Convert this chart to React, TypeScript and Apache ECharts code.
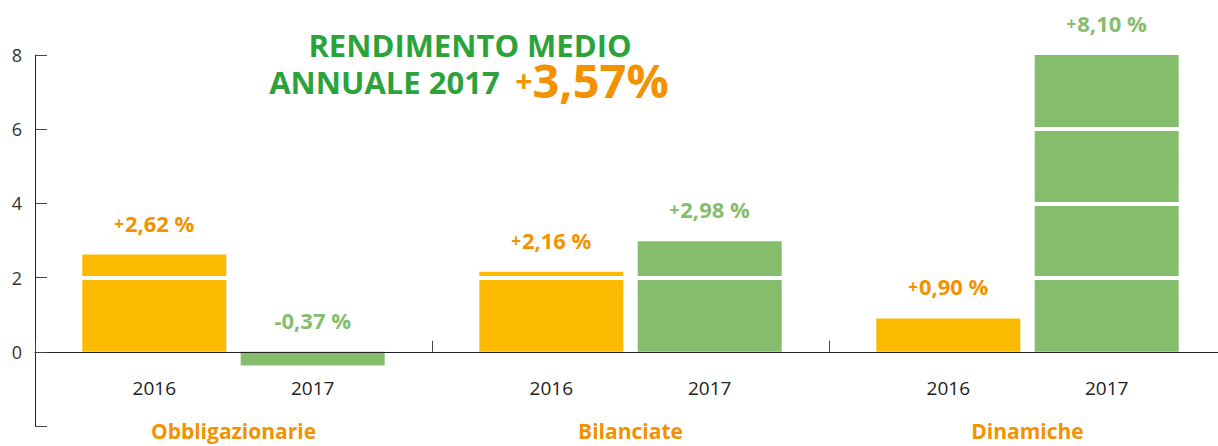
import React, { useEffect, useRef } from 'react';
import * as echarts from 'echarts';

const categories = ['Obbligazionarie', 'Bilanciate', 'Dinamiche'];
const years = ['2016', '2017'];
const values2016 = [2.62, 2.16, 0.9];
const values2017 = [-0.37, 2.98, 8.1];
const yMin = -2;
const yMax = 8;
const yInterval = 2;
const highlightLines = [2, 4, 6];
const titleLine1 = 'RENDIMENTO MEDIO';
const titleLine2 = 'ANNUALE 2017';
const averageReturn = 3.57;

const ORANGE_BAR = '#FBBA00';
const GREEN_BAR = '#84BD6C';
const ORANGE_TEXT = '#F39200';
const TITLE_GREEN = '#2BA33A';
const FONT = '"Open Sans", Lato, sans-serif';

const fmt = (v: number) => {
  const body = Math.abs(v).toFixed(2).replace('.', ',') + ' %';
  return v >= 0 ? '{s|+}{v|' + body + '}' : '{v|-' + body + '}';
};

const valueLabel = (color: string) => ({
  show: true,
  position: 'top',
  distance: 21,
  formatter: (p: any) => fmt(p.value),
  rich: {
    s: {
      fontSize: 17,
      fontWeight: 'bold',
      color,
      fontFamily: FONT,
      verticalAlign: 'bottom',
      padding: [0, 1, 2, 0],
    },
    v: { fontSize: 22, fontWeight: 'bold', color, fontFamily: FONT, verticalAlign: 'bottom' },
  },
});

const yearLabel = (name: string) => ({
  show: true,
  position: 'bottom',
  distance: 27,
  formatter: name,
  color: '#222',
  fontSize: 19,
  fontFamily: FONT,
});

const barCommon = { barWidth: 144, barGap: '10%' };

export default function App() {
  const ref = useRef<HTMLDivElement>(null);
  useEffect(() => {
    if (!ref.current) return;
    const chart = echarts.init(ref.current, undefined, { renderer: 'svg' });
    const avg = '+' + averageReturn.toFixed(2).replace('.', ',') + '%';
    chart.setOption({
      animation: false,
      backgroundColor: '#fff',
      grid: {
        left: 35,
        right: -8,
        top: 55,
        bottom: 20,
        containLabel: false,
        outerBoundsMode: 'none',
      },
      graphic: [
        {
          type: 'text',
          x: 470,
          y: 45,
          style: {
            text: titleLine1,
            fill: TITLE_GREEN,
            fontSize: 31,
            fontWeight: 'bold',
            fontFamily: FONT,
            align: 'center',
            verticalAlign: 'middle',
          },
        },
        {
          type: 'text',
          x: 469,
          y: 80,
          style: {
            text: '{g|' + titleLine2 + '}{sp|   }{p|+}{o|' + avg.slice(1) + '}',
            align: 'center',
            verticalAlign: 'middle',
            rich: {
              g: { fill: TITLE_GREEN, fontSize: 31, fontWeight: 'bold', fontFamily: FONT, verticalAlign: 'bottom', padding: [0, 0, 6, 0] },
              sp: { fontSize: 20, fontFamily: FONT, verticalAlign: 'bottom' },
              p: { fill: ORANGE_TEXT, fontSize: 30, fontWeight: 'bold', fontFamily: FONT, verticalAlign: 'bottom', padding: [0, 0, 8, 0] },
              o: { fill: ORANGE_TEXT, fontSize: 47, fontWeight: 'bold', fontFamily: FONT, verticalAlign: 'bottom' },
            },
          },
        },
      ],
      xAxis: [
        {
          type: 'category',
          data: categories,
          z: 10,
          axisLine: { show: true, lineStyle: { color: '#222', width: 1 } },
          axisTick: { show: true, inside: true, length: 11, lineStyle: { color: '#444' } },
          axisLabel: { show: false },
        },
        { type: 'category', data: categories, position: 'bottom', show: false },
        { type: 'category', data: categories, position: 'bottom', show: false },
        { type: 'category', data: categories, position: 'bottom', show: false },
      ],
      yAxis: {
        type: 'value',
        min: yMin,
        max: yMax,
        interval: yInterval,
        z: 10,
        axisLine: { show: true, lineStyle: { color: '#222', width: 1 } },
        axisTick: { show: true, inside: true, length: 12, lineStyle: { color: '#444' } },
        axisLabel: {
          formatter: (v: number) => (v < 0 ? '' : String(v)),
          color: '#333',
          fontSize: 18,
          fontFamily: FONT,
          margin: 13,
        },
        splitLine: { show: false },
      },
      series: [
        {
          type: 'bar',
          name: years[0],
          data: values2016,
          ...barCommon,
          z: 2,
          itemStyle: { color: ORANGE_BAR },
        },
        {
          type: 'bar',
          name: years[1],
          data: values2017,
          ...barCommon,
          z: 2,
          itemStyle: { color: GREEN_BAR },
          markLine: {
            silent: true,
            z: 3,
            symbol: ['none', 'none'],
            label: { show: false },
            lineStyle: { color: '#fff', width: 4, type: 'solid' },
            data: highlightLines.map((v) => ({ yAxis: v })),
          },
        },
        {
          type: 'bar',
          name: years[0] + ' value',
          xAxisIndex: 1,
          data: values2016,
          ...barCommon,
          z: 4,
          silent: true,
          itemStyle: { color: 'transparent' },
          label: valueLabel(ORANGE_TEXT),
        },
        {
          type: 'bar',
          name: years[1] + ' value',
          xAxisIndex: 1,
          data: values2017,
          ...barCommon,
          z: 4,
          silent: true,
          itemStyle: { color: 'transparent' },
          label: valueLabel(GREEN_BAR),
        },
        {
          type: 'bar',
          name: years[0] + ' year',
          xAxisIndex: 2,
          data: categories.map(() => 0),
          ...barCommon,
          silent: true,
          itemStyle: { color: 'transparent' },
          label: yearLabel(years[0]),
        },
        {
          type: 'bar',
          name: years[1] + ' year',
          xAxisIndex: 2,
          data: categories.map(() => 0),
          ...barCommon,
          silent: true,
          itemStyle: { color: 'transparent' },
          label: yearLabel(years[1]),
        },
        {
          type: 'bar',
          name: 'category',
          xAxisIndex: 3,
          data: categories.map(() => 0),
          barWidth: 300,
          silent: true,
          itemStyle: { color: 'transparent' },
          label: {
            show: true,
            position: 'bottom',
            distance: 69,
            formatter: (p: any) => p.name,
            color: ORANGE_TEXT,
            fontSize: 21,
            fontWeight: 'bold',
            fontFamily: FONT,
          },
        },
      ],
    });
    return () => chart.dispose();
  }, []);
  return (
    <div
      ref={ref}
      style={{ position: 'fixed', left: 0, top: 0, width: 1218, height: 446, background: '#fff' }}
    />
  );
}
